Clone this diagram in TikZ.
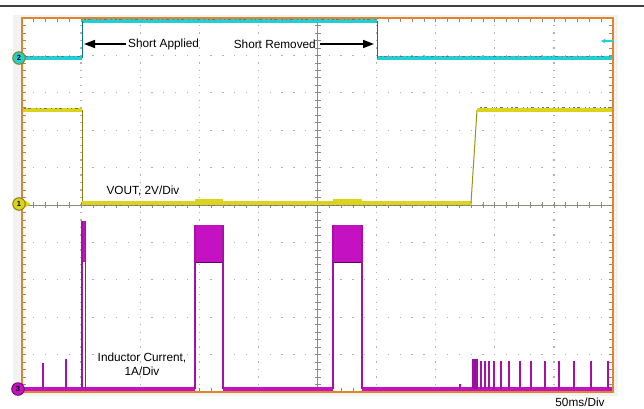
\documentclass[tikz,border=0pt]{standalone}
\usepackage{fontspec}
\setmainfont{Liberation Sans}
\usetikzlibrary{arrows.meta}
\definecolor{scopecyan}{HTML}{22CFD2}
\definecolor{scopeyel}{HTML}{DCD41C}
\definecolor{scopemag}{HTML}{C411C2}
\definecolor{scopeorg}{HTML}{E0852C}
\definecolor{gridgray}{HTML}{B0B0B0}
\definecolor{axisgray}{HTML}{8C8C7A}
\definecolor{markring}{HTML}{8E7E10}

\begin{document}
\begin{tikzpicture}[x=1pt,y=-1pt,
  hgrid/.style={gridgray,line width=1.3pt,dash pattern=on 1.3pt off 10.52pt,dash phase=0.65pt},
  vgrid/.style={gridgray,line width=1.3pt,dash pattern=on 1.3pt off 6.18pt,dash phase=0.65pt},
  tick/.style={axisgray,line width=0.7pt},
  chtwo/.style={scopecyan,line width=4.5pt},
  chone/.style={scopeyel,line width=4pt},
  chthree/.style={scopemag,line width=4pt},
  chedge/.style={black!45!scopecyan,line width=0.8pt},
  noise/.style={black!55,line width=1pt,dash pattern=on 1.5pt off 2.5pt on 3pt off 4.5pt on 1pt off 3pt},
  pulse/.style={scopemag!85!black,line width=1.1pt},
  lbl/.style={font=\fontsize{11.8}{14}\selectfont,inner sep=2pt},
  pointer/.style={line width=1.6pt,-{Triangle[length=11pt,width=8pt]}},
  marker/.style={circle,draw=markring,line width=1pt,inner sep=0pt,minimum size=12.5pt,font=\fontsize{7.5}{7.5}\selectfont\bfseries}]
 \useasboundingbox (0,0) rectangle (644,408);
 \draw [black!75,line width=1.2pt] (0,6) -- (644,6);
 % screen
 \fill [black!5] (13,15) rectangle (618,396);
 \fill [white] (22,18) rectangle (613,392);
 \foreach \i in {1,...,9} {
   \draw [vgrid] ({22+59.1*\i},18) -- ({22+59.1*\i},392);
   \draw [hgrid] (22,{18+37.4*\i}) -- (613,{18+37.4*\i});
 }
 \draw [axisgray,line width=0.8pt] (22,205) -- (613,205);
 \draw [axisgray,line width=0.8pt] (317.5,18) -- (317.5,392);
 \foreach \k in {1,...,49} {
   \draw [tick] ({22+11.82*\k},18) -- ++(0,4);
   \draw [tick] ({22+11.82*\k},392) -- ++(0,-4);
   \draw [tick] ({22+11.82*\k},202) -- ++(0,6);
   \draw [tick] (22,{18+7.48*\k}) -- ++(4,0);
   \draw [tick] (613,{18+7.48*\k}) -- ++(-4,0);
   \draw [tick] (314.5,{18+7.48*\k}) -- ++(6,0);
 }
 % channel 2
 \draw [chtwo] (22,58) -- (82,58);
 \draw [chtwo] (82,20.5) -- (377,20.5);
 \draw [chtwo] (377,58) -- (613,58);
 \draw [chedge] (82,58) -- (82,20.5);
 \draw [chedge] (377,20.5) -- (377,58);
 \draw [noise] (26,56) -- (80,56);
 \draw [noise] (380,56) -- (611,56);
 \draw [noise] (84,19.5) -- (375,19.5);
 % channel 1
 \draw [chone] (22,110) -- (82,110);
 \draw [black!40!scopeyel,line width=0.8pt] (82,110) -- (82,202);
 \draw [chone] (82,202.5) -- (472,202.5);
 \draw [chone] (195,200.5) -- (223,200.5);
 \draw [chone] (333,200.5) -- (362,200.5);
 \draw [black!30!scopeyel,line width=1pt] (471,203) -- (477,110);
 \draw [chone] (477,109.5) -- (613,109.5);
 \draw [noise] (24,108) -- (80,108);
 \draw [noise] (480,107.5) -- (611,107.5);
 \draw [noise] (84,205) -- (470,205);
 \fill [scopeyel] (25,200.5) -- (30.5,204) -- (25,207.5) -- cycle;
 % channel 3
 \draw [chthree] (22,389) -- (195,389);
 \draw [chthree] (223,389) -- (333,389);
 \draw [chthree] (362,389) -- (613,389);
 \fill [scopemag] (82,221) rectangle (85.5,262);
 \draw [pulse] (82,221) -- (82,389);
 \draw [pulse] (85.5,221) -- (85.5,389);
 \foreach \a/\b in {195/223,333/362} {
   \fill [scopemag] (\a,225) rectangle (\b,263);
   \draw [scopemag!45!black,line width=1.2pt] (\a,262.5) -- (\b,262.5);
   \draw [pulse] (\a,225) -- (\a,389);
   \draw [pulse] (\b,225) -- (\b,389);
 }
 \foreach \x/\y in {43/363,66/359,460/384}
   \draw [pulse] (\x,389) -- (\x,\y);
 \fill [scopemag!80!black] (472,359) rectangle (478,389);
 \foreach \x in {481,485,489,494,501,509,520,531,545,559,574,591,608}
   \draw [pulse] (\x,389) -- (\x,361);
 % frame
 \draw [scopeorg,line width=2pt] (22,18) rectangle (613,392);
 \draw [scopecyan,line width=1.2pt,-{Stealth[length=4.5pt,width=4.5pt]}] (614,41) -- (601,41);
 % markers
 \node [marker,fill=scopecyan] (mktwo) at (19,58) {2};
 \node [marker,fill=scopeyel] (mkone) at (19,204) {1};
 \node [marker,fill=scopemag,draw=scopemag!60!black] (mkthree) at (18,389) {3};
 % labels
 \node [lbl,anchor=west] (shortA) at (126,44) {Short Applied};
 \coordinate (applied) at (84,44);
 \draw [pointer] (shortA.west) -- (applied);
 \node [lbl,anchor=east,inner sep=4pt] (shortR) at (320,44) {Short Removed};
 \coordinate (removed) at (374,44);
 \draw [pointer] (shortR.east) -- (removed);
 \node [lbl] (vout) at (143,191) {VOUT, 2V/Div};
 \node [lbl,align=center] (iind) at (142,364) {Inductor Current,\\1A/Div};
 \node [lbl,anchor=base] (tdiv) at (580,406) {50ms/Div};
\end{tikzpicture}
\end{document}
